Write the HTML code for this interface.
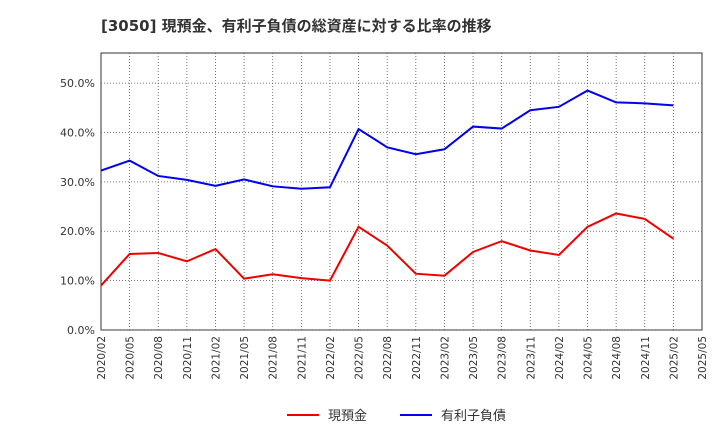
<!DOCTYPE html>
<html><head><meta charset="utf-8"><style>
body{margin:0;background:#fff;font-family:"DejaVu Sans","Noto Sans CJK JP",sans-serif;}
svg{display:block}
</style></head><body>
<svg id="chart" width="720" height="440">
<text x="101" y="31" font-size="15" font-weight="bold" fill="#333">[3050]  現預金、有利子負債の総資産に対する比率の推移</text>
<g id="grid"></g><g id="series"></g><g id="axes"></g>
<g>
<line x1="287" y1="415" x2="319" y2="415" stroke="#ee0000" stroke-width="2"/>
<text x="328" y="420" font-size="13" fill="#333">現預金</text>
<line x1="400" y1="415" x2="432" y2="415" stroke="#0000ee" stroke-width="2"/>
<text x="441" y="420" font-size="13" fill="#333">有利子負債</text>
</g>
</svg>
<script>
const categories=["2020/02","2020/05","2020/08","2020/11","2021/02","2021/05","2021/08","2021/11","2022/02","2022/05","2022/08","2022/11","2023/02","2023/05","2023/08","2023/11","2024/02","2024/05","2024/08","2024/11","2025/02","2025/05"];
const cashValues=[9.0,15.4,15.6,13.9,16.4,10.4,11.3,10.5,10.0,20.9,17.1,11.4,11.0,15.8,18.0,16.1,15.2,20.9,23.6,22.5,18.5];
const debtValues=[32.3,34.3,31.2,30.4,29.2,30.5,29.1,28.6,28.9,40.7,37.0,35.6,36.6,41.2,40.8,44.5,45.2,48.5,46.1,45.9,45.5];
const yTicks=[0,10,20,30,40,50];
const L=101,R=702,T=53,B=330,YMAX=56.1;
const xs=i=>L+i*(R-L)/(categories.length-1);
const ys=v=>B-v*(B-T)/YMAX;
const NS="http://www.w3.org/2000/svg";
const grid=document.getElementById('grid'),axes=document.getElementById('axes'),ser=document.getElementById('series');
function mk(tag,attrs,parent){const e=document.createElementNS(NS,tag);for(const k in attrs)e.setAttribute(k,attrs[k]);parent.appendChild(e);return e;}
const bg=mk('rect',{x:L,y:T,width:R-L,height:B-T,fill:'#fff',stroke:'#333','stroke-width':1},grid);


yTicks.forEach(v=>{
 const y=ys(v);
 const g=mk('line',{x1:L,x2:R,y1:y,y2:y,stroke:'#555','stroke-dasharray':'1,2','stroke-width':0.8},grid);
 
 
 const t=mk('text',{x:L-6,y:y+4,'text-anchor':'end','font-size':11,fill:'#333'},axes);
 t.textContent=v.toFixed(1)+'%';
 
 
});
categories.forEach((c,i)=>{
 const x=xs(i);
 if(i>0&&i<categories.length-1){
  const g=mk('line',{x1:x,x2:x,y1:T,y2:B,stroke:'#555','stroke-dasharray':'1,2','stroke-width':0.8},grid);
  
  
 }
 const t=mk('text',{x:x+4,y:B+6,'text-anchor':'end','font-size':10.5,fill:'#333',transform:`rotate(-90 ${x+4} ${B+6})`},axes);
 t.textContent=c;
 
 
});
function line(vals,color,name){
 const p=mk('polyline',{points:vals.map((v,i)=>xs(i)+','+ys(v)).join(' '),fill:'none',stroke:color,'stroke-width':2},ser);
 
 
}
line(cashValues,'#ee0000','cash-line');
line(debtValues,'#0000ee','debt-line');
</script>
</body></html>
